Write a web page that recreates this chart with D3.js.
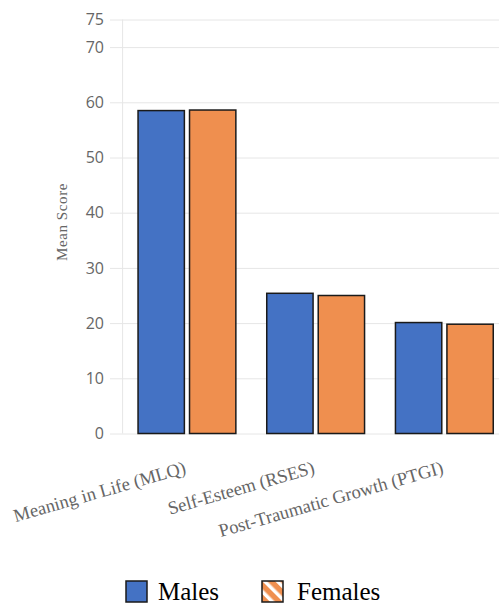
<!DOCTYPE html>
<html>
<head>
<meta charset="utf-8">
<script src="https://cdn.jsdelivr.net/npm/d3@7/dist/d3.min.js"></script>
<style>
html,body{margin:0;padding:0;background:#fff;}
svg{display:block;}
</style>
</head>
<body>
<svg id="chart" width="499" height="605"></svg>
<script>
const categories = ["Meaning in Life (MLQ)", "Self-Esteem (RSES)", "Post-Traumatic Growth (PTGI)"];
const seriesNames = ["Males", "Females"];
const malesValues = [58.5, 25.4, 20.1];
const femalesValues = [58.6, 25.0, 19.8];
const yTicks = [0, 10, 20, 30, 40, 50, 60, 70, 75];
const colors = ["#4472C4", "#EF8F4F"];

(function () {
const svg = d3.select("#chart");
const plotLeft = 122.6, plotRight = 508.7, plotTop = 19.5, plotBottom = 433.5;

const y = d3.scaleLinear().domain([0, 75]).range([plotBottom, plotTop]);
const x0 = d3.scaleBand().domain(categories).range([plotLeft, plotRight]).paddingInner(0.2).paddingOuter(0.1);
const x1 = d3.scaleBand().domain(seriesNames).range([0, x0.bandwidth()]).paddingInner(0.1).paddingOuter(0.05);

// pattern for legend
const defs = svg.append("defs");
const pat = defs.append("pattern").attr("id", "stripes").attr("patternUnits", "userSpaceOnUse")
  .attr("width", 9).attr("height", 9).attr("patternTransform", "rotate(-45)");
pat.append("rect").attr("width", 9).attr("height", 9).attr("fill", colors[1]);
pat.append("rect").attr("x", 0).attr("width", 3.5).attr("height", 9).attr("fill", "#fff");

// grid lines + y axis
const axisX = plotRight + 20;
const gy = svg.append("g").attr("transform", `translate(${axisX},0)`)
  .call(d3.axisLeft(y).tickValues(yTicks).tickSize(axisX - 110).tickPadding(6));
gy.select(".domain").remove();
gy.selectAll(".tick line").attr("stroke", "#e6e6e6").attr("stroke-width", 1);
gy.selectAll(".tick text").attr("fill", "#666").attr("font-family", "'Open Sans', sans-serif")
  .attr("font-size", 16).attr("x", -(axisX - 104)).attr("text-anchor", "end");

// vertical axis line
svg.append("line").attr("x1", plotLeft).attr("x2", plotLeft).attr("y1", plotTop).attr("y2", plotBottom)
  .attr("stroke", "#e6e6e6").attr("stroke-width", 1);

// bars
const data = categories.map((c, i) => ({cat: c, vals: [malesValues[i], femalesValues[i]]}));
const groups = svg.append("g").selectAll("g").data(data).join("g")
  .attr("transform", d => `translate(${x0(d.cat)},0)`);
groups.selectAll("rect").data(d => d.vals.map((v, j) => ({s: seriesNames[j], v, j}))).join("rect")
  .attr("x", d => x1(d.s))
  .attr("y", d => y(d.v))
  .attr("width", x1.bandwidth())
  .attr("height", d => y(0) - y(d.v))
  .attr("fill", d => colors[d.j])
  .attr("stroke", "#1a1a1a")
  .attr("stroke-width", 1.5);

// x labels
svg.append("g").selectAll("text").data(categories).join("text")
  .attr("transform", d => `translate(${x0(d) + x0.bandwidth() / 2},473) rotate(-16)`)
  .attr("text-anchor", "end")
  .attr("font-family", "'Liberation Serif', 'Times New Roman', serif")
  .attr("font-size", 18.5)
  .attr("fill", "#666")
  .text(d => d);

// y title
svg.append("text")
  .attr("transform", `translate(67,222) rotate(-90)`)
  .attr("text-anchor", "middle")
  .attr("font-family", "'Liberation Serif', 'Times New Roman', serif")
  .attr("font-size", 15)
  .attr("letter-spacing", 0.6)
  .attr("fill", "#666")
  .text("Mean Score");

// legend
const legendX = [126, 262];
const leg = svg.append("g").selectAll("g").data(seriesNames).join("g")
  .attr("transform", (d, i) => `translate(${legendX[i]},581)`);
leg.append("rect").attr("width", 21).attr("height", 21)
  .attr("fill", (d, i) => i === 0 ? colors[0] : "url(#stripes)")
  .attr("stroke", "#1a1a1a").attr("stroke-width", 1.5);
leg.append("text").attr("x", (d, i) => i === 0 ? 32 : 35).attr("y", 19)
  .attr("font-family", "'Liberation Serif', 'Times New Roman', serif")
  .attr("font-size", 25)
  .attr("fill", "#000")
  .text(d => d);
})();
</script>
</body>
</html>
